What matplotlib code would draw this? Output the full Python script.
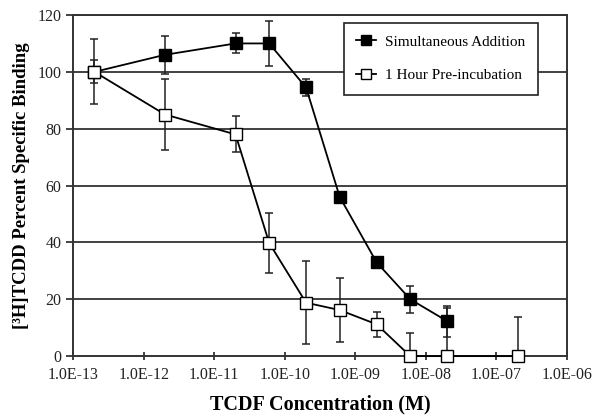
import matplotlib
matplotlib.use("Agg")
import matplotlib.pyplot as plt

# TCDF concentration (M)
conc_sim = [2e-13, 2e-12, 2e-11, 6e-11, 2e-10, 6e-10, 2e-9, 6e-9, 2e-8]
conc_pre = [2e-13, 2e-12, 2e-11, 6e-11, 2e-10, 6e-10, 2e-9, 6e-9, 2e-8, 2e-7]

# percent specific binding
sim_vals = [100, 106, 110, 110, 94.5, 56, 33, 20, 12.3]
sim_err = [4, 6.7, 3.5, 8, 3, 1, 1, 4.7, 5.4]

pre_vals = [100, 85, 78, 39.8, 18.8, 16.2, 11.2, 0, 0, 0]
pre_err = [11.4, 12.5, 6.3, 10.6, 14.5, 11.3, 4.4, 8, 17, 13.6]

yticks = [0, 20, 40, 60, 80, 100, 120]
xticks = [1e-13, 1e-12, 1e-11, 1e-10, 1e-9, 1e-8, 1e-7, 1e-6]
xticklabels = ["1.0E-13", "1.0E-12", "1.0E-11", "1.0E-10",
               "1.0E-09", "1.0E-08", "1.0E-07", "1.0E-06"]

plt.rcParams['font.family'] = ['Liberation Serif', 'DejaVu Serif']

fig = plt.figure(figsize=(6, 4.17), dpi=100)
ax = fig.add_axes([0.122, 0.146, 0.823, 0.818])

for y in yticks[1:]:
    ax.axhline(y, color='#333333', lw=1.3, zorder=0)

ax.errorbar(conc_pre, pre_vals, yerr=pre_err, fmt='none', ecolor='#222222',
            elinewidth=1.1, capsize=3, capthick=1.1, zorder=2)
ax.errorbar(conc_sim, sim_vals, yerr=sim_err, fmt='none', ecolor='#222222',
            elinewidth=1.1, capsize=3, capthick=1.1, zorder=2)

ax.plot(conc_sim, sim_vals, color='black', lw=1.3, marker='s', ms=8,
        mfc='black', mec='black', label='Simultaneous Addition', zorder=3,
        clip_on=False)
ax.plot(conc_pre, pre_vals, color='black', lw=1.3, marker='s', ms=8,
        mfc='white', mec='black', mew=1.0, label='1 Hour Pre-incubation',
        zorder=3, clip_on=False)

ax.set_xscale('log')
ax.set_xlim(1e-13, 1e-6)
ax.set_ylim(0, 120)
ax.set_xticks(xticks)
ax.set_xticklabels(xticklabels)
ax.minorticks_off()
ax.set_yticks(yticks)
ax.tick_params(axis='x', direction='inout', length=6, width=1.2,
               labelsize=11.5, colors='#222222', pad=5)
ax.tick_params(axis='y', direction='out', length=5, width=1.2,
               labelsize=11.5, colors='#222222')
for s in ax.spines.values():
    s.set_color('#333333')
    s.set_linewidth(1.4)

ax.set_xlabel('TCDF Concentration (M)', fontsize=14.5, fontweight='bold', labelpad=8)
ax.set_ylabel('[³H]TCDD Percent Specific Binding', fontsize=13.5,
              fontweight='bold', labelpad=5)

leg = ax.legend(loc='upper right', bbox_to_anchor=(0.941, 0.977), fontsize=11,
                frameon=True, fancybox=False, edgecolor='#222222',
                framealpha=1, labelspacing=1.3, handlelength=1.3,
                handletextpad=0.6, borderpad=0.8, borderaxespad=0,
                markerscale=0.85)
leg.get_frame().set_linewidth(1.2)

fig.savefig('out.png', dpi=100)
